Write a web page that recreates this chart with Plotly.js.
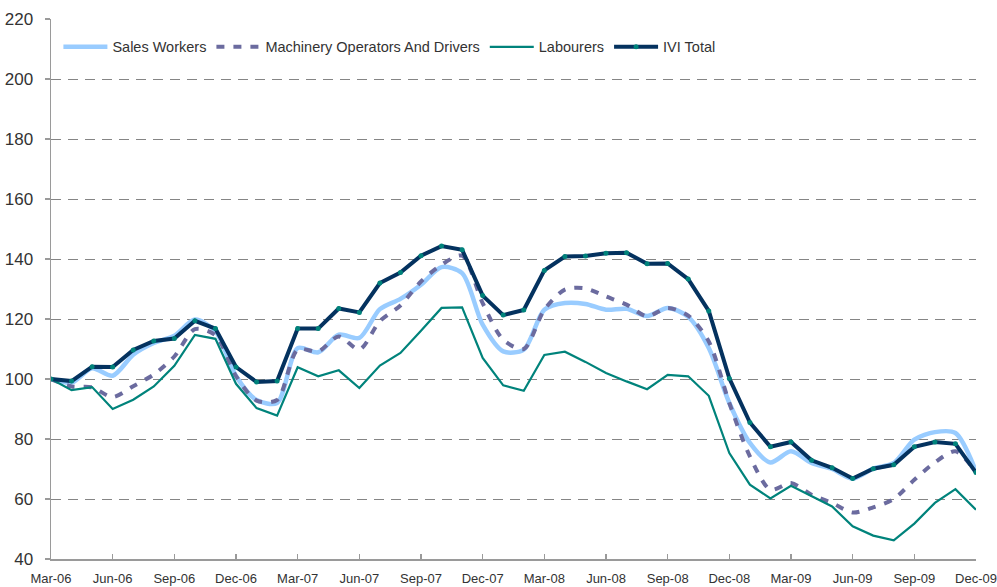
<!DOCTYPE html>
<html>
<head>
<meta charset="utf-8">
<script src="https://cdn.plot.ly/plotly-3.0.1.min.js"></script>
<style>
html,body{margin:0;padding:0;background:#fff;}
#chart{width:997px;height:587px;}
</style>
</head>
<body>
<div id="chart"></div>
<script>
const months = ["Mar-06","Apr-06","May-06","Jun-06","Jul-06","Aug-06","Sep-06","Oct-06","Nov-06","Dec-06",
"Jan-07","Feb-07","Mar-07","Apr-07","May-07","Jun-07","Jul-07","Aug-07","Sep-07","Oct-07","Nov-07","Dec-07",
"Jan-08","Feb-08","Mar-08","Apr-08","May-08","Jun-08","Jul-08","Aug-08","Sep-08","Oct-08","Nov-08","Dec-08",
"Jan-09","Feb-09","Mar-09","Apr-09","May-09","Jun-09","Jul-09","Aug-09","Sep-09","Oct-09","Nov-09","Dec-09"];

const tickLabels = ["Mar-06","Jun-06","Sep-06","Dec-06","Mar-07","Jun-07","Sep-07","Dec-07",
"Mar-08","Jun-08","Sep-08","Dec-08","Mar-09","Jun-09","Sep-09","Dec-09"];

const salesWorkers = [100,98.8,103.6,101.1,108.1,112,114.4,119.8,115.9,101,93,92,
110.3,108.9,114.8,113.7,123.3,126.7,131.4,137.3,135.3,118.1,109.2,109.8,
123.1,125.3,125,123.1,123.4,121,123.7,120.7,110.3,92,78.7,72.2,
75.9,72,70,66.8,70.1,72,79.8,82.3,82,69.2];

const machineryOperators = [100,97.5,97.2,94,97.6,101.5,107.5,116.6,114.6,101,92.8,93,
109.8,109.2,114.2,109.8,119.3,124.5,132.5,138.1,141.1,125.3,113.1,110,
123.1,129.8,130.2,127.5,124.8,120.9,123.7,121.1,112.5,92,74.2,63.1,
65.3,61.4,58.7,55.5,57.2,60,66.4,72.2,75.9,68.9];

const labourers = [100,96.3,97.3,90,93.1,97.5,104.4,114.7,113.4,98.4,90.3,87.8,
103.9,100.9,102.9,97,104.5,108.7,116.1,123.7,123.9,107,97.9,96.1,
108,109.1,105.7,102,99.2,96.6,101.4,100.9,94.4,75.3,64.8,60.2,
64.4,60.9,57.5,50.9,47.8,46.2,51.8,58.7,63.3,56.4];

const iviTotal = [100,99.3,104.1,104,109.7,112.7,113.5,119.4,116.8,104,99,99.3,
116.8,116.8,123.5,122.2,132,135.5,141.1,144.3,143.1,127.8,121.3,123,
136.2,140.8,141,141.9,142.1,138.4,138.5,133.3,122.7,100.2,85.5,77.4,
79,72.9,70.4,66.8,70.1,71.4,77.4,79,78.4,68.8];

const FONT = "'Liberation Sans Narrow','Arial Narrow','Liberation Sans',Arial,sans-serif";

const traces = [
  {name:"Sales Workers", x:months, y:salesWorkers, type:"scatter", mode:"lines",
   line:{color:"#99ccff", width:4.5, shape:"spline", smoothing:0.8}},
  {name:"Machinery Operators And Drivers", x:months, y:machineryOperators, type:"scatter", mode:"lines",
   line:{color:"#6b6b9f", width:4, dash:"8px,9px", shape:"spline", smoothing:0.8}},
  {name:"Labourers", x:months, y:labourers, type:"scatter", mode:"lines",
   line:{color:"#00837b", width:2.2}},
  {name:"IVI Total", x:months, y:iviTotal, type:"scatter", mode:"lines+markers",
   line:{color:"#04325f", width:4},
   marker:{color:"#00837b", size:5}}
];

const layout = {
  width:997, height:587,
  margin:{l:51, r:21, t:19, b:28},
  paper_bgcolor:"#fff", plot_bgcolor:"#fff",
  font:{family:FONT, color:"#333333"},
  showlegend:true,
  legend:{orientation:"h", x:0.008, y:0.978, xanchor:"left", yanchor:"top",
          font:{family:FONT, size:14.5, color:"#333333"}, bgcolor:"rgba(0,0,0,0)",
          itemwidth:44, tracegroupgap:0},
  xaxis:{type:"category", range:[0,45], tickvals:tickLabels, ticktext:tickLabels,
         showgrid:false, zeroline:false, showline:true, linecolor:"#9a9a9a", linewidth:1.5,
         ticks:"inside", ticklen:5, tickcolor:"#9a9a9a", tickwidth:1.2, ticklabelstandoff:7,
         tickfont:{family:FONT, size:13, color:"#333333"}, tickangle:0, fixedrange:true},
  yaxis:{range:[40,220], tickvals:[40,60,80,100,120,140,160,180,200,220],
         showgrid:true, gridcolor:"#858585", gridwidth:1, griddash:"10px,7px",
         zeroline:false, showline:true, linecolor:"#9a9a9a", linewidth:1.5,
         ticks:"outside", ticklen:5, tickcolor:"#9a9a9a", tickwidth:1.2, ticklabelstandoff:8,
         tickfont:{family:FONT, size:17, color:"#333333"}, fixedrange:true}
};

Plotly.newPlot("chart", traces, layout, {displayModeBar:false, staticPlot:true});
</script>
</body>
</html>
